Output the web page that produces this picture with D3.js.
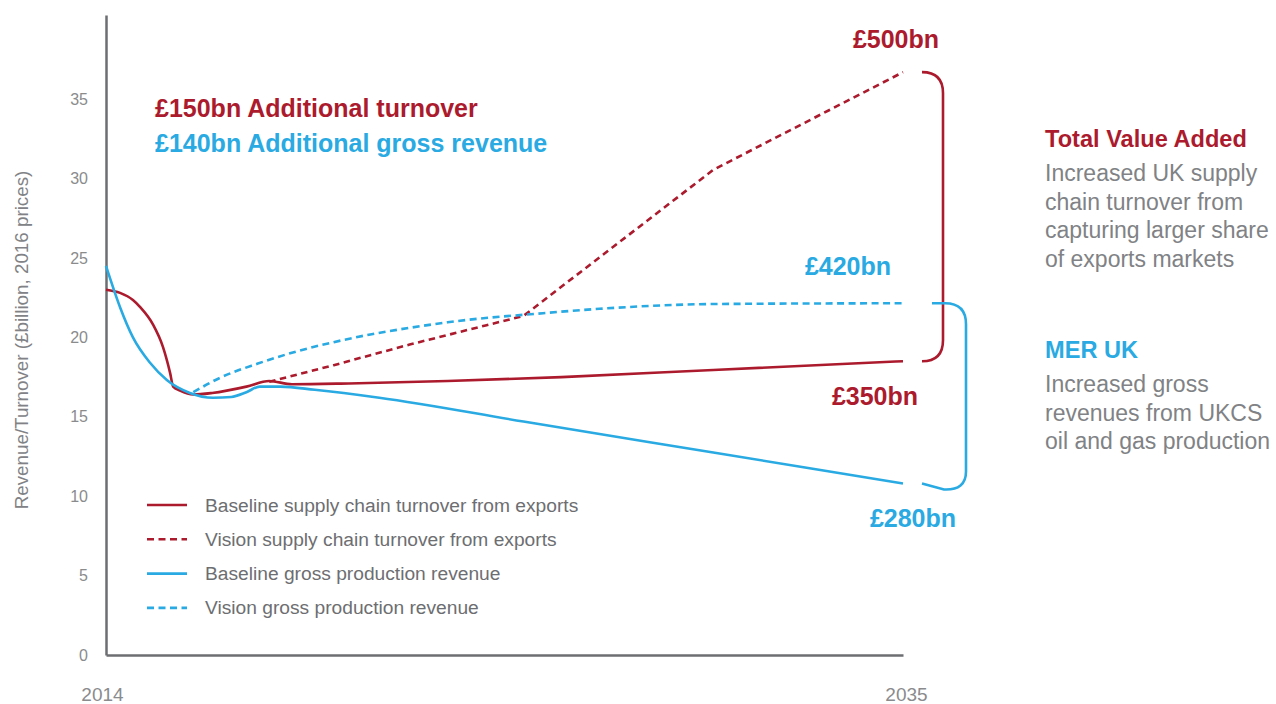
<!DOCTYPE html>
<meta charset="utf-8">
<html>
  <head>
    <script src="https://cdn.jsdelivr.net/npm/d3@7/dist/d3.min.js"></script>
    <style>
      body {
        margin: 0;
        background: #fff;
        font-family: "Helvetica Neue", Helvetica, Arial, "Liberation Sans", sans-serif;
      }
      .tick text { fill: #8a8b8d; }
    </style>
  </head>
  <body>
    <div id="chart"></div>
    <script>
      const RED = "#ab1b2d";
      const BLUE = "#2aaae2";
      const GREY = "#6d6e71";
      const TEXT = "#808285";

      // [year, £bn]
      const baselineSupply = [
        [2014, 23.0], [2014.37, 22.8], [2014.71, 22.35], [2014.9, 21.9], [2015.24, 20.8],
        [2015.5, 19.4], [2015.69, 17.75], [2015.77, 16.9], [2015.95, 16.65], [2016.3, 16.4],
        [2016.8, 16.5], [2017.7, 16.9], [2018.3, 17.25], [2018.9, 17.05], [2020.4, 17.1],
        [2023, 17.25], [2026, 17.5], [2030, 17.95], [2035, 18.5]
      ];
      const visionSupply = [
        [2018.3, 17.2], [2020, 18.25], [2022, 19.55], [2024, 20.75], [2025, 21.35],
        [2030, 30.55], [2035, 36.7]
      ];
      const baselineGross = [
        [2014, 24.5], [2014.37, 21.9], [2014.71, 20.0], [2015.16, 18.4], [2015.61, 17.3],
        [2016.21, 16.5], [2016.82, 16.2], [2017.3, 16.25], [2017.7, 16.55], [2018.05, 16.9],
        [2018.6, 16.9], [2019.5, 16.7], [2021.2, 16.2], [2025, 14.7], [2030, 12.75],
        [2035, 10.8]
      ];
      const visionGross = [
        [2016.3, 16.55], [2017, 17.45], [2018, 18.35], [2019, 19.1], [2020, 19.7],
        [2021, 20.2], [2022, 20.6], [2023, 20.95], [2024, 21.22], [2025, 21.42],
        [2027, 21.8], [2030, 22.1], [2035, 22.15]
      ];

      const yTicks = [0, 5, 10, 15, 20, 25, 30, 35];
      const xTicks = [2014, 2035];

      const series = [
        {name: "Baseline supply chain turnover from exports", values: baselineSupply, color: RED, dash: null, curve: d3.curveMonotoneX},
        {name: "Vision supply chain turnover from exports", values: visionSupply, color: RED, dash: "6.5,4.5", curve: d3.curveLinear},
        {name: "Baseline gross production revenue", values: baselineGross, color: BLUE, dash: null, curve: d3.curveMonotoneX},
        {name: "Vision gross production revenue", values: visionGross, color: BLUE, dash: "7,4.5", curve: d3.curveMonotoneX}
      ];

      // brace annotations: end values at 2035
      const totals = {top500: 36.7, bot350: 18.5, top420: 22.15, bot280: 10.8};

      const W = 1276, H = 704;
      const margin = {top: 15, left: 106, right: 373, bottom: 49};

      const svg = d3.select("#chart").append("svg")
        .attr("width", W).attr("height", H);

      const x = d3.scaleLinear().domain([2014, 2035]).range([margin.left, W - margin.right]);
      const y = d3.scaleLinear().domain([0, 40.3]).range([H - margin.bottom, margin.top]);

      // axes
      const yAxis = svg.append("g")
        .attr("transform", `translate(${margin.left},0)`)
        .call(d3.axisLeft(y).tickValues(yTicks).tickSize(0).tickSizeOuter(0).tickPadding(18));
      yAxis.selectAll("text").attr("font-size", 16).attr("font-family", "inherit");

      const xAxis = svg.append("g")
        .attr("transform", `translate(0,${y(0)})`)
        .call(d3.axisBottom(x).tickValues(xTicks).tickFormat(d3.format("d")).tickSize(0).tickSizeOuter(0).tickPadding(33));
      xAxis.selectAll("text").attr("font-size", 19).attr("font-family", "inherit")
        .attr("dx", d => d === 2014 ? -4 : 3);

      svg.selectAll(".domain").attr("stroke", GREY).attr("stroke-width", 2.5);

      svg.append("text")
        .attr("transform", `translate(28,${(y(0) + margin.top) / 2 + 5}) rotate(-90)`)
        .attr("text-anchor", "middle")
        .attr("font-size", 18.8)
        .attr("fill", TEXT)
        .text("Revenue/Turnover (£billion, 2016 prices)");

      // lines
      series.forEach(s => {
        const line = d3.line().x(d => x(d[0])).y(d => y(d[1])).curve(s.curve);
        svg.append("path")
          .datum(s.values)
          .attr("fill", "none")
          .attr("stroke", s.color)
          .attr("stroke-width", 2.6)
          .attr("stroke-dasharray", s.dash)
          .attr("d", line);
      });

      // braces
      const xe = x(2035);
      const r = 21;
      const redTop = y(totals.top500), redBot = y(totals.bot350);
      svg.append("path")
        .attr("fill", "none").attr("stroke", RED).attr("stroke-width", 2.6)
        .attr("d", `M${xe + 19},${redTop} Q${xe + 40},${redTop} ${xe + 40},${redTop + r}
                    L${xe + 40},${redBot - r} Q${xe + 40},${redBot} ${xe + 19},${redBot}`);

      const blueTop = y(totals.top420), blueBot = y(totals.bot280);
      svg.append("path")
        .attr("fill", "none").attr("stroke", BLUE).attr("stroke-width", 2.6)
        .attr("d", `M${xe + 29},${blueTop} L${xe + 42},${blueTop} Q${xe + 63},${blueTop} ${xe + 63},${blueTop + r}
                    L${xe + 63},${blueBot - 12} Q${xe + 63},${blueBot + 7} ${xe + 41},${blueBot + 6} L${xe + 19},${blueBot}`);

      // value labels
      const bigLabels = [
        {t: "£500bn", x: xe - 7, y: 48, c: RED},
        {t: "£420bn", x: xe - 55, y: 275, c: BLUE},
        {t: "£350bn", x: xe - 28, y: 405, c: RED},
        {t: "£280bn", x: xe + 10, y: 527, c: BLUE}
      ];
      svg.selectAll(".biglabel").data(bigLabels).join("text")
        .attr("x", d => d.x).attr("y", d => d.y)
        .attr("text-anchor", "middle")
        .attr("font-size", 25).attr("font-weight", "bold")
        .attr("fill", d => d.c)
        .text(d => d.t);

      svg.append("text").attr("x", 155).attr("y", 117)
        .attr("font-size", 25).attr("font-weight", "bold").attr("fill", RED)
        .text("£150bn Additional turnover");
      svg.append("text").attr("x", 155).attr("y", 152)
        .attr("font-size", 25).attr("font-weight", "bold").attr("fill", BLUE)
        .text("£140bn Additional gross revenue");

      // legend
      const legend = svg.append("g").attr("transform", "translate(147,505)");
      series.forEach((s, i) => {
        const g = legend.append("g").attr("transform", `translate(0,${i * 34.3})`);
        g.append("line").attr("x1", 0).attr("x2", 40)
          .attr("stroke", s.color).attr("stroke-width", 2.6)
          .attr("stroke-dasharray", s.dash ? "7,4.5" : null);
        g.append("text").attr("x", 58).attr("y", 6.5)
          .attr("font-size", 19.2).attr("fill", GREY)
          .text(s.name);
      });

      // side notes
      const notes = [
        {title: "Total Value Added", color: RED, y: 147, lines: ["Increased UK supply", "chain turnover from", "capturing larger share", "of exports markets"]},
        {title: "MER UK", color: BLUE, y: 358, lines: ["Increased gross", "revenues from UKCS", "oil and gas production"]}
      ];
      notes.forEach(n => {
        svg.append("text").attr("x", 1045).attr("y", n.y)
          .attr("font-size", 23.6).attr("font-weight", "bold").attr("fill", n.color)
          .text(n.title);
        n.lines.forEach((l, i) => {
          svg.append("text").attr("x", 1045).attr("y", n.y + 34 + i * 28.7)
            .attr("font-size", 23).attr("fill", TEXT)
            .text(l);
        });
      });
    </script>
  </body>
</html>
